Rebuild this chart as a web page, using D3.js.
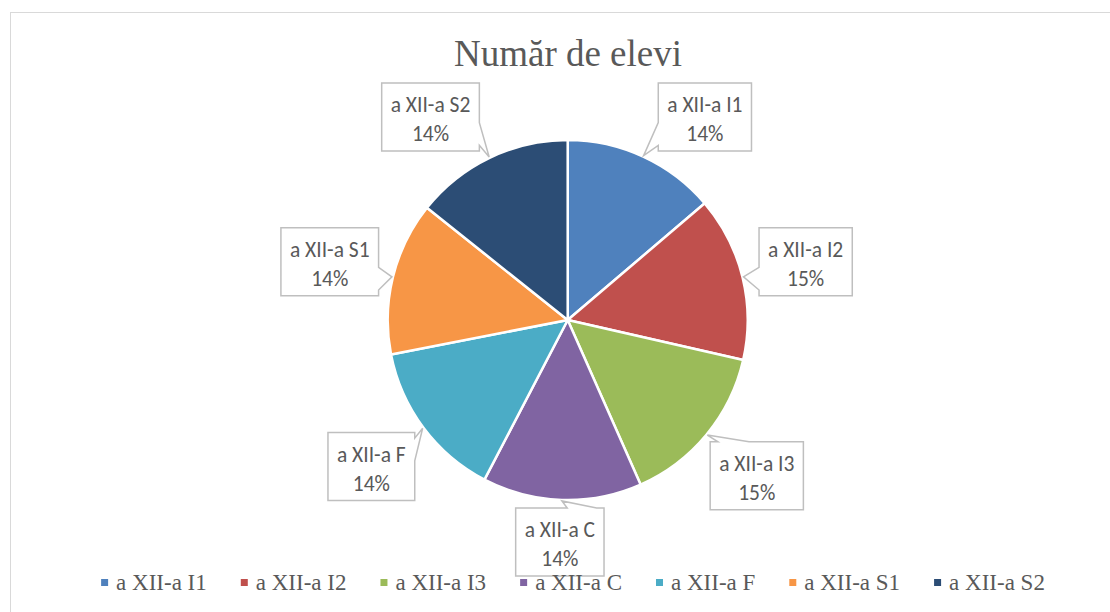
<!DOCTYPE html>
<html>
<head>
<meta charset="utf-8">
<script src="https://cdn.jsdelivr.net/npm/d3@7"></script>
<style>
  body { margin: 0; background: #fff; }
  svg { display: block; }
</style>
</head>
<body>
<svg id="chart"></svg>
<script>
const title = "Număr de elevi";
const categories = ["a XII-a I1", "a XII-a I2", "a XII-a I3", "a XII-a C", "a XII-a F", "a XII-a S1", "a XII-a S2"];
const students = [27, 29, 29, 28, 28, 27, 28];
const colors = ["#4F81BD", "#C0504D", "#9BBB59", "#8064A2", "#4BACC6", "#F79646", "#2C4D75"];

const width = 1110, height = 612;
const cx = 567.7, cy = 320, radius = 180;
const labelR = 245, minLabelY = 117, maxLabelY = 542;
const boxH = 68, boxPad = 9;
const labelFont = "Calibri, Carlito, Lato, sans-serif";
const serif = "'Times New Roman', 'Liberation Serif', serif";
const textColor = "#595959";

const svg = d3.select("#chart")
  .attr("width", width)
  .attr("height", height);

// chart area border
svg.append("rect")
  .attr("x", 10.5).attr("y", 12.5)
  .attr("width", 1200).attr("height", 700)
  .attr("fill", "#fff")
  .attr("stroke", "#d9d9d9");

svg.append("text")
  .attr("x", 568).attr("y", 66)
  .attr("text-anchor", "middle")
  .attr("font-family", serif)
  .attr("font-size", "37px")
  .attr("fill", textColor)
  .text(title);

const total = d3.sum(students);
const pct = d3.format(".0%");
const pie = d3.pie().sort(null).value(d => d.value);
const arcs = pie(categories.map((c, i) => ({ name: c, value: students[i], color: colors[i] })));
const arc = d3.arc().innerRadius(0).outerRadius(radius);

const g = svg.append("g").attr("transform", `translate(${cx},${cy})`);
g.selectAll("path")
  .data(arcs)
  .enter().append("path")
  .attr("d", arc)
  .attr("fill", d => d.data.color)
  .attr("stroke", "#fff")
  .attr("stroke-width", 2.5)
  .attr("stroke-linejoin", "round");

// callout box with a wedge pointing at (tx, ty)
function callout(x0, y0, w, h, tx, ty) {
  const x1 = x0 + w, y1 = y0 + h;
  const mx = x0 + w / 2, my = y0 + h / 2;
  const nx = (tx - mx) / (w / 2), ny = (ty - my) / (h / 2);
  if (Math.abs(nx) <= 1 && Math.abs(ny) <= 1) return `M${x0},${y0}H${x1}V${y1}H${x0}Z`;
  if (Math.abs(ny) >= Math.abs(nx)) {
    const left = tx < mx;
    const a = x0 + w * (left ? 1 : 7) / 12, b = x0 + w * (left ? 5 : 11) / 12;
    if (ny > 0) return `M${x0},${y0}H${x1}V${y1}H${b}L${tx},${ty}L${a},${y1}H${x0}Z`;
    return `M${x0},${y0}H${a}L${tx},${ty}L${b},${y0}H${x1}V${y1}H${x0}Z`;
  }
  const up = ty < my;
  const a = y0 + h * (up ? 1 : 7) / 12, b = y0 + h * (up ? 5 : 11) / 12;
  if (nx > 0) return `M${x0},${y0}H${x1}V${a}L${tx},${ty}L${x1},${b}V${y1}H${x0}Z`;
  return `M${x0},${y0}H${x1}V${y1}H${x0}V${b}L${tx},${ty}L${x0},${a}Z`;
}

const labels = svg.append("g");
arcs.forEach(d => {
  const mid = (d.startAngle + d.endAngle) / 2;
  let lx = cx + labelR * Math.sin(mid), ly = cy - labelR * Math.cos(mid);
  if (ly < minLabelY) {
    const dy = minLabelY - cy;
    lx = cx + Math.sign(Math.sin(mid)) * Math.sqrt(labelR * labelR - dy * dy);
    ly = minLabelY;
  }
  if (ly > maxLabelY) ly = maxLabelY;
  const tx = cx + (radius + 1) * Math.sin(mid), ty = cy - (radius + 1) * Math.cos(mid);

  const lg = labels.append("g");
  const box = lg.append("path");
  const t1 = lg.append("text").text(d.data.name);
  const t2 = lg.append("text").text(pct(d.data.value / total));
  lg.selectAll("text")
    .attr("text-anchor", "middle")
    .attr("font-family", labelFont)
    .attr("font-size", "21.5px")
    .attr("fill", textColor)
    .attr("x", lx);
  const tw = Math.max(t1.node().getComputedTextLength(), t2.node().getComputedTextLength());
  const w = tw + 2 * boxPad;
  const x0 = lx - w / 2, y0 = ly - boxH / 2;
  t1.attr("y", y0 + 29);
  t2.attr("y", y0 + 58);
  box.attr("d", callout(x0, y0, w, boxH, tx, ty))
    .attr("fill", "#fff")
    .attr("stroke", "#bfbfbf")
    .attr("stroke-width", 1.5);
});

// legend
const legend = svg.append("g");
const items = legend.selectAll("g")
  .data(categories)
  .enter().append("g");
items.append("rect")
  .attr("width", 7).attr("height", 7)
  .attr("y", 579)
  .attr("fill", (d, i) => colors[i]);
items.append("text")
  .attr("x", 15).attr("y", 590)
  .attr("font-family", serif)
  .attr("font-size", "23px")
  .attr("fill", textColor)
  .text(d => d);
let pos = 0;
const gap = 34;
const offsets = [];
items.each(function () {
  offsets.push(pos);
  pos += 15 + d3.select(this).select("text").node().getComputedTextLength() + gap;
});
const legendW = pos - gap;
const startX = 573 - legendW / 2;
items.attr("transform", (d, i) => `translate(${startX + offsets[i]},0)`);
</script>
</body>
</html>
